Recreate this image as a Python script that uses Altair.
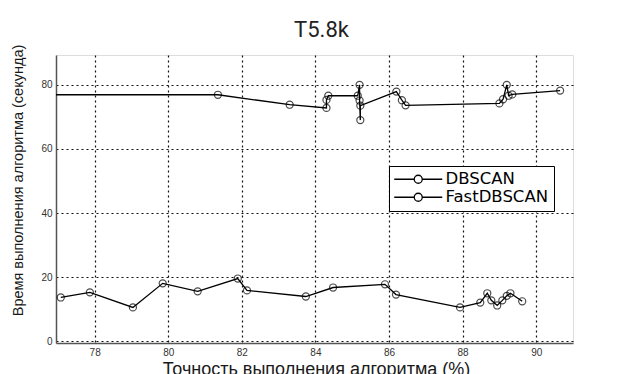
import altair as alt
import pandas as pd

# DBSCAN run time vs. accuracy (the first point sits just left of the axis so the
# flat leading segment runs in from the edge)
dbscan_acc = [76.5, 81.35, 83.3, 84.3, 84.3, 84.35, 85.15, 85.2, 85.2, 85.22, 85.22,
              86.2, 86.35, 86.45, 89.0, 89.1, 89.2, 89.25, 89.35, 90.65]
dbscan_time = [76.9, 76.9, 73.8, 72.8, 75.3, 76.6, 76.6, 80.0, 75.1, 69.0, 73.5,
               77.9, 75.2, 73.6, 74.2, 75.5, 80.0, 76.6, 77.0, 78.2]

# FastDBSCAN run time vs. accuracy
fast_acc = [77.08, 77.87, 79.04, 79.85, 80.8, 81.89, 82.14, 83.74, 84.48, 85.89,
            86.19, 87.93, 88.48, 88.67, 88.78, 88.94, 89.08, 89.2, 89.3, 89.62]
fast_time = [13.7, 15.3, 10.6, 18.1, 15.6, 19.6, 15.9, 14.0, 16.8, 17.8,
             14.6, 10.6, 12.1, 15.0, 12.8, 11.2, 12.8, 14.2, 15.0, 12.5]

series_names = ["DBSCAN", "FastDBSCAN"]
x_ticks = [78, 80, 82, 84, 86, 88, 90]
y_ticks = [0, 10, 20, 30, 40, 50, 60, 70, 80]

rows = []
for name, xs, ys in [(series_names[0], dbscan_acc, dbscan_time),
                     (series_names[1], fast_acc, fast_time)]:
    for i, (a, t) in enumerate(zip(xs, ys)):
        rows.append({"series": name, "acc": a, "time": t, "idx": i})
df = pd.DataFrame(rows)

# shared axis styling: dotted black grid, no tick marks, grey axis lines
axis_style = dict(
    labelFont="Liberation Sans", labelFontSize=10, labelColor="#333",
    titleFont="Liberation Sans", titleFontWeight="normal", titleColor="#1a1a1a",
    ticks=False, domainColor="#555", domainWidth=1.5,
    grid=True, gridColor="#111", gridDash=[2, 3], gridWidth=1.2, gridOpacity=1,
)

x_enc = alt.X("acc:Q",
              scale=alt.Scale(domain=[76.95, 91.0], nice=False, zero=False),
              axis=alt.Axis(values=x_ticks, title="Точность выполнения алгоритма (%)",
                            titleX=260, titleY=17, titleBaseline="top",
                            titleAlign="center", titleFontSize=18,
                            labelPadding=4, **axis_style))
y_enc = alt.Y("time:Q",
              scale=alt.Scale(domain=[-0.5, 89.3], nice=False, zero=False),
              axis=alt.Axis(values=y_ticks, title="Время выполнения алгоритма (секунда)",
                            titleX=-38, titleY=125, titleAngle=270,
                            titleAlign="center", titleBaseline="middle",
                            titleFontSize=14.5, labelPadding=4, **axis_style))

color_scale = alt.Scale(domain=series_names, range=["black", "black"])

# legend key: short line with an open circle in the middle
legend_symbol = "M-6,0H-1M1,0H6M-1,0A1,1,0,1,1,1,0A1,1,0,1,1,-1,0"

lines = alt.Chart(df).mark_line(strokeWidth=1.3, clip=True).encode(
    x=x_enc,
    y=y_enc,
    order="idx:Q",
    detail="series:N",
    color=alt.Color("series:N", scale=color_scale,
                    legend=alt.Legend(title=None, orient="none",
                                      legendX=333, legendY=111,
                                      symbolType=legend_symbol, symbolSize=64,
                                      symbolStrokeWidth=1.3, symbolOffset=16,
                                      labelOffset=19, labelFontSize=16.5,
                                      labelFont="DejaVu Sans", labelColor="black",
                                      padding=5, rowPadding=1,
                                      strokeColor="black", fillColor="white")),
)

points = alt.Chart(df).mark_point(shape="circle", size=50, strokeWidth=1.2,
                                  filled=False, clip=True).encode(
    x="acc:Q",
    y="time:Q",
    color=alt.Color("series:N", scale=color_scale, legend=None),
)

chart = alt.layer(lines, points).properties(
    width=517,
    height=288,
    title=alt.TitleParams("T5.8k", font="Roboto", fontSize=22, fontWeight="normal",
                          color="#222", anchor="middle", dx=7, dy=23,
                          baseline="alphabetic", offset=8),
    autosize=alt.AutoSizeParams(type="none"),
    padding={"left": 56, "top": 55, "right": 71, "bottom": 31},
).configure_view(
    stroke=None
).configure(background="white")

chart.save("out.html", embed_options={"renderer": "svg", "actions": False})
